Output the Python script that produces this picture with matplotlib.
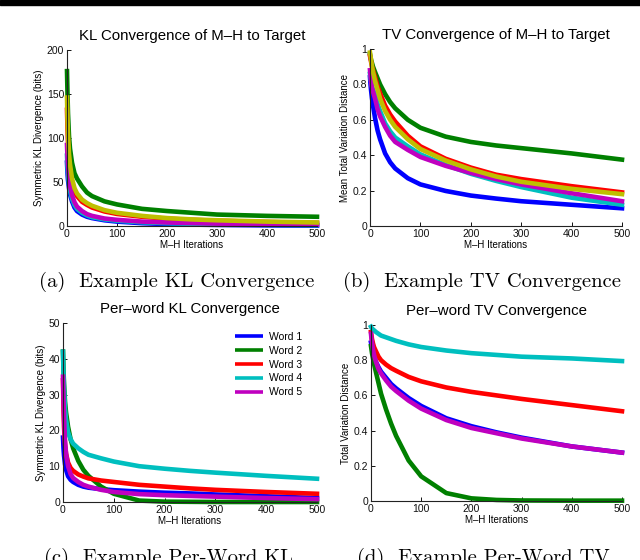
import numpy as np
import matplotlib
matplotlib.use('Agg')
import matplotlib.pyplot as plt
from matplotlib.patches import Rectangle

plt.rcParams['font.family'] = ['Liberation Sans', 'DejaVu Sans']

iters = [0, 1, 2, 4, 6, 10, 15, 20, 30, 40, 50, 75, 100, 150, 200, 250, 300, 400, 500]

# (a) KL convergence, symmetric KL divergence (bits)
kl_blue = [72, 60, 52, 43, 36, 28, 21, 17, 13, 10.5, 9, 6.5, 5, 3.2, 2.2, 1.6, 1.2, 0.7, 0.4]
kl_green = [176, 150, 128, 102, 88, 72, 60, 54, 45, 38, 34, 28, 24.5, 19.5, 17, 15, 13, 11.5, 10.5]
kl_red = [132, 110, 94, 74, 63, 49, 39, 34, 27.5, 24, 21, 16.5, 13.7, 10.5, 8.3, 7, 6, 4.5, 3.5]
kl_cyan = [80, 68, 59, 48, 40, 31, 24, 19.5, 15, 12, 10, 7.5, 6, 4.2, 3.2, 2.5, 2, 1.3, 1]
kl_magenta = [92, 78, 68, 55, 46, 35, 27, 22, 17, 13.5, 11.5, 8.5, 7, 5, 4, 3.3, 2.7, 2, 1.5]
kl_yellow = [146, 122, 104, 82, 70, 54, 43, 37, 30, 26, 23, 18, 15, 11.5, 9, 7.5, 6.5, 5, 4]

# (b) TV convergence, mean total variation distance
tv_blue = [0.84, 0.80, 0.77, 0.72, 0.68, 0.61, 0.54, 0.49, 0.41, 0.36, 0.325, 0.27, 0.235, 0.198, 0.172, 0.155, 0.14, 0.12, 0.10]
tv_green = [0.97, 0.955, 0.94, 0.92, 0.90, 0.87, 0.835, 0.80, 0.745, 0.70, 0.665, 0.60, 0.555, 0.505, 0.475, 0.455, 0.44, 0.41, 0.375]
tv_red = [0.96, 0.945, 0.93, 0.90, 0.88, 0.84, 0.79, 0.75, 0.68, 0.63, 0.59, 0.51, 0.45, 0.38, 0.33, 0.29, 0.265, 0.225, 0.19]
tv_cyan = [0.86, 0.84, 0.82, 0.79, 0.77, 0.74, 0.69, 0.65, 0.58, 0.535, 0.50, 0.45, 0.405, 0.345, 0.295, 0.255, 0.22, 0.16, 0.12]
tv_magenta = [0.88, 0.85, 0.82, 0.78, 0.76, 0.72, 0.66, 0.62, 0.56, 0.51, 0.475, 0.43, 0.39, 0.34, 0.30, 0.265, 0.235, 0.185, 0.14]
tv_yellow = [0.98, 0.96, 0.94, 0.90, 0.87, 0.82, 0.77, 0.72, 0.65, 0.60, 0.56, 0.49, 0.435, 0.37, 0.32, 0.28, 0.25, 0.21, 0.18]

# (c) per-word KL
words = ['Word 1', 'Word 2', 'Word 3', 'Word 4', 'Word 5']
pw_kl_1 = [18, 15, 13, 10.5, 9, 7.2, 6.2, 5.6, 4.8, 4.3, 4, 3.6, 3.3, 2.9, 2.6, 2.4, 2.1, 1.6, 1.1]
pw_kl_2 = [42, 37, 33, 28, 25, 21, 17.5, 15, 11.5, 9, 7.3, 4.3, 2.3, 0.4, 0.1, 0.05, 0, 0, 0]
pw_kl_3 = [34, 26, 21, 16, 13.5, 11, 9.5, 8.7, 7.7, 7.1, 6.6, 6, 5.6, 4.8, 4.3, 3.8, 3.4, 2.8, 2.3]
pw_kl_4 = [42, 36, 32, 26, 23, 19.5, 17.5, 16.3, 15, 14, 13.2, 12.2, 11.3, 10, 9.3, 8.7, 8.2, 7.3, 6.5]
pw_kl_5 = [35, 29, 24, 17, 13.5, 10, 7.8, 6.7, 5.6, 4.8, 4.3, 3.4, 2.8, 2.2, 1.9, 1.7, 1.5, 1.1, 0.8]

# (d) per-word TV
pw_tv_1 = [0.90, 0.885, 0.87, 0.845, 0.825, 0.79, 0.76, 0.735, 0.70, 0.665, 0.64, 0.585, 0.54, 0.47, 0.425, 0.39, 0.36, 0.31, 0.275]
pw_tv_2 = [0.88, 0.86, 0.84, 0.81, 0.78, 0.73, 0.67, 0.61, 0.52, 0.44, 0.37, 0.23, 0.14, 0.045, 0.015, 0.006, 0.003, 0.002, 0.002]
pw_tv_3 = [0.96, 0.94, 0.92, 0.895, 0.875, 0.85, 0.82, 0.80, 0.775, 0.755, 0.74, 0.705, 0.68, 0.645, 0.62, 0.60, 0.58, 0.545, 0.51]
pw_tv_4 = [0.99, 0.985, 0.98, 0.975, 0.97, 0.96, 0.95, 0.94, 0.93, 0.92, 0.91, 0.89, 0.875, 0.855, 0.84, 0.83, 0.82, 0.81, 0.795]
pw_tv_5 = [0.95, 0.92, 0.90, 0.86, 0.83, 0.79, 0.75, 0.725, 0.685, 0.65, 0.625, 0.57, 0.525, 0.46, 0.415, 0.385, 0.355, 0.31, 0.275]

# matlab default line colours
cols = [(0, 0, 1), (0, 0.5, 0), (1, 0, 0), (0, 0.75, 0.75), (0.75, 0, 0.75), (0.75, 0.75, 0)]

W, H = 640, 560
fig = plt.figure(figsize=(W / 100, H / 100), dpi=100)


def px_axes(l, t, r, b):
    return fig.add_axes([l / W, 1 - b / H, (r - l) / W, (b - t) / H])


def style(ax, ymax, yticks, yticklabels, ylabel, title):
    ax.set_xlim(0, 500)
    ax.set_ylim(0, ymax)
    ax.set_xticks([0, 100, 200, 300, 400, 500])
    ax.set_xticklabels(['0', '100', '200', '300', '400', '500'])
    ax.set_yticks(yticks)
    ax.set_yticklabels(yticklabels)
    for s in ['top', 'right']:
        ax.spines[s].set_visible(False)
    for s in ['left', 'bottom']:
        ax.spines[s].set_color('#222222')
        ax.spines[s].set_linewidth(0.8)
    ax.tick_params(direction='in', length=3, width=0.7, labelsize=7.5, pad=2, colors='#111111')
    ax.set_xlabel('M\u2013H Iterations', fontsize=7, labelpad=1)
    ax.set_ylabel(ylabel, fontsize=7, labelpad=2)
    ax.set_title(title, fontsize=10.8, pad=7)


lw = 3.3

ax_a = px_axes(67, 50, 317, 226)
for y, c in zip([kl_blue, kl_green, kl_red, kl_cyan, kl_magenta, kl_yellow], cols):
    ax_a.plot(iters, y, color=c, lw=lw, clip_on=False)
style(ax_a, 200, [0, 50, 100, 150, 200], ['0', '50', '100', '150', '200'],
      'Symmetric KL Divergence (bits)', 'KL Convergence of M\u2013H to Target')

ax_b = px_axes(370, 49, 622, 226)
for y, c in zip([tv_blue, tv_green, tv_red, tv_cyan, tv_magenta, tv_yellow], cols):
    ax_b.plot(iters, y, color=c, lw=lw, clip_on=False)
style(ax_b, 1, [0, 0.2, 0.4, 0.6, 0.8, 1], ['0', '0.2', '0.4', '0.6', '0.8', '1'],
      'Mean Total Variation Distance', 'TV Convergence of M\u2013H to Target')

ax_c = px_axes(63, 323, 317, 502)
for y, c, w in zip([pw_kl_1, pw_kl_2, pw_kl_3, pw_kl_4, pw_kl_5], cols, words):
    ax_c.plot(iters, y, color=c, lw=lw, label=w, clip_on=False)
style(ax_c, 50, [0, 10, 20, 30, 40, 50], ['0', '10', '20', '30', '40', '50'],
      'Symmetric KL Divergence (bits)', 'Per\u2013word KL Convergence')
leg = ax_c.legend(loc='upper right', bbox_to_anchor=(0.965, 0.985), frameon=False, fontsize=7.5,
                  handlelength=2.7, handletextpad=0.5, labelspacing=0.37, borderaxespad=0.2)
for ln in leg.get_lines():
    ln.set_linewidth(2.6)
    ln.set_solid_capstyle('butt')

ax_d = px_axes(371, 325, 622, 501)
for y, c in zip([pw_tv_1, pw_tv_2, pw_tv_3, pw_tv_4, pw_tv_5], cols):
    ax_d.plot(iters, y, color=c, lw=lw, clip_on=False)
style(ax_d, 1, [0, 0.2, 0.4, 0.6, 0.8, 1], ['0', '0.2', '0.4', '0.6', '0.8', '1'],
      'Total Variation Distance', 'Per\u2013word TV Convergence')

# sub-figure captions (the lower two run off the bottom edge, as in the scan)
cap = dict(family='cmr10', fontsize=14.8, ha='center', va='baseline')
fig.text(177 / W, 1 - 287 / H, '(a)  Example KL Convergence', **cap)
fig.text(482 / W, 1 - 287 / H, '(b)  Example TV Convergence', **cap)
fig.text(168 / W, 1 - 563 / H, '(c)  Example Per-Word KL', **cap)
fig.text(483 / W, 1 - 563 / H, '(d)  Example Per-Word TV', **cap)

# black strip along the top edge
fig.patches.append(Rectangle((0, 1 - 5 / H), 1, 5 / H, transform=fig.transFigure,
                             color='black', zorder=10))

fig.savefig('out.png', dpi=100)
